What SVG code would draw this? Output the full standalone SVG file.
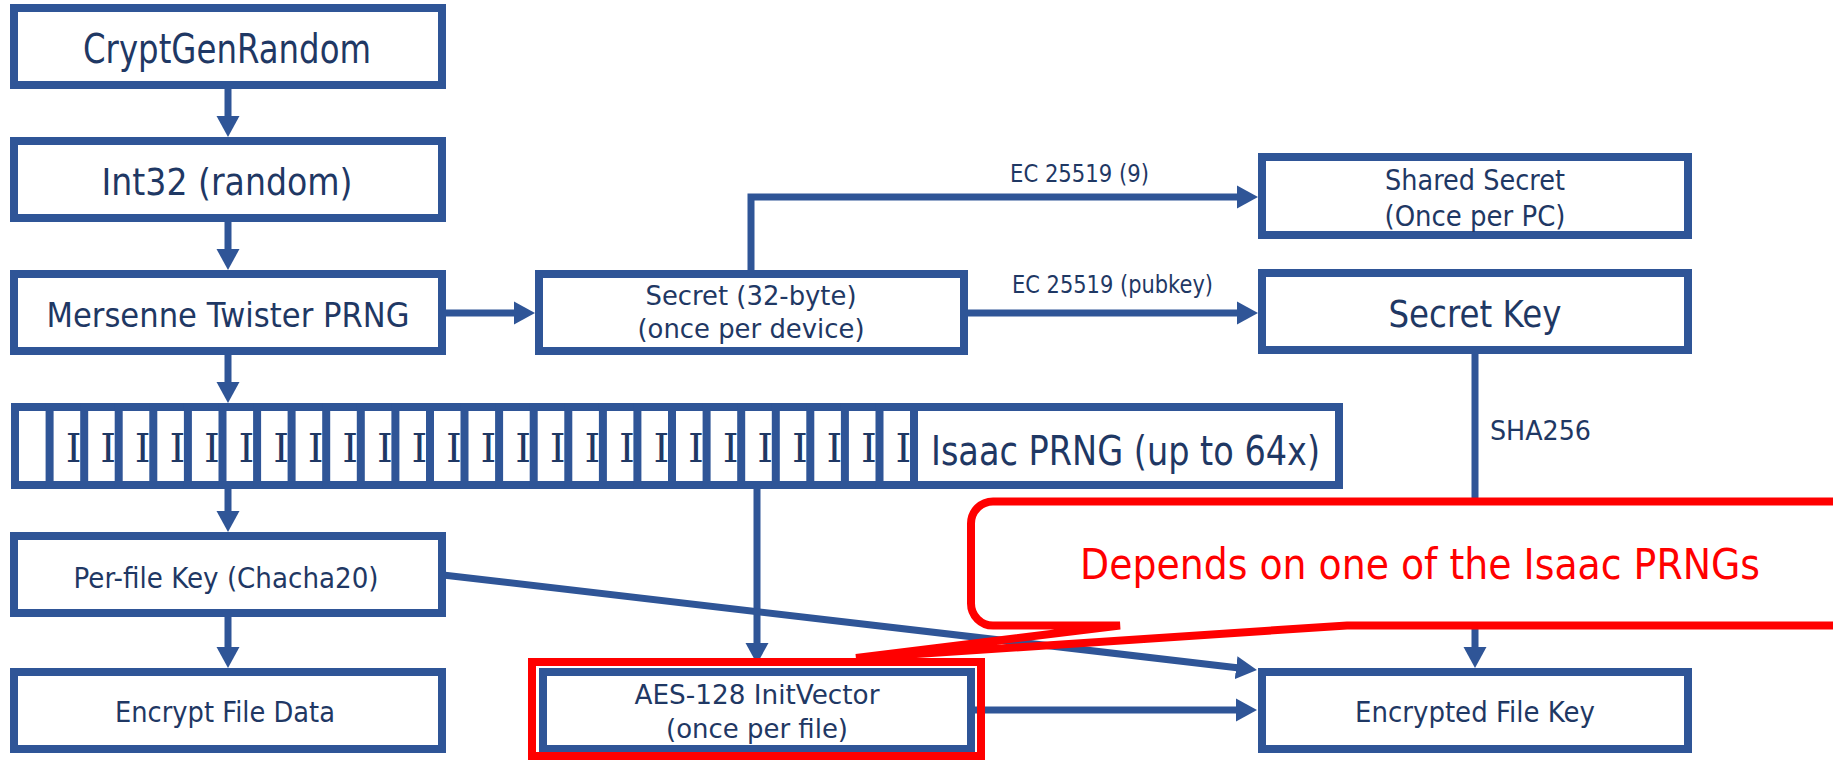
<svg xmlns="http://www.w3.org/2000/svg" width="1833" height="761" viewBox="0 0 1833 761">
<style>
.box{fill:#fff;stroke:#2F5597;stroke-width:8}
.ln{fill:none;stroke:#2F5597;stroke-width:7}
.t{font-family:"DejaVu Sans","Liberation Sans",sans-serif;fill:#1F3864;text-anchor:middle}
.ts{font-family:"DejaVu Sans","Liberation Sans",sans-serif;fill:#1F3864}
.ti{font-family:"DejaVu Serif","Liberation Serif",serif;fill:#1F3864;font-size:40px;text-anchor:middle}
.red{fill:none;stroke:#FF0000;stroke-width:8}
</style>
<defs>
<marker id="ah" markerUnits="userSpaceOnUse" markerWidth="21" markerHeight="24" refX="1" refY="12" orient="auto">
<path d="M0,0.5 L21,12 L0,23.5 Z" fill="#2F5597"/>
</marker>
</defs>
<g id="connectors">
<line class="ln" x1="228" y1="89" x2="228" y2="117" marker-end="url(#ah)"/>
<line class="ln" x1="228" y1="222" x2="228" y2="250" marker-end="url(#ah)"/>
<line class="ln" x1="228" y1="355" x2="228" y2="383" marker-end="url(#ah)"/>
<line class="ln" x1="228" y1="489" x2="228" y2="512" marker-end="url(#ah)"/>
<line class="ln" x1="228" y1="617" x2="228" y2="648" marker-end="url(#ah)"/>
<line class="ln" x1="446" y1="313" x2="515" y2="313" marker-end="url(#ah)"/>
<path class="ln" d="M751,272 V197 H1238" marker-end="url(#ah)"/>
<line class="ln" x1="968" y1="313" x2="1238" y2="313" marker-end="url(#ah)"/>
<line class="ln" x1="1475" y1="354" x2="1475" y2="648" marker-end="url(#ah)"/>
<line class="ln" x1="757" y1="489" x2="757" y2="644" marker-end="url(#ah)"/>
<line class="ln" x1="443" y1="575" x2="1237.1" y2="667.7" marker-end="url(#ah)"/>
<line class="ln" x1="975" y1="710" x2="1237" y2="710" marker-end="url(#ah)"/>
<text class="ts" x="1010" y="182" font-size="24" textLength="139" lengthAdjust="spacingAndGlyphs">EC 25519 (9)</text>
<text class="ts" x="1012" y="293" font-size="24" textLength="201" lengthAdjust="spacingAndGlyphs">EC 25519 (pubkey)</text>
<text class="ts" x="1490" y="440" font-size="27" textLength="101" lengthAdjust="spacingAndGlyphs">SHA256</text>
</g>
<g id="node-cryptgenrandom">
<rect class="box" x="14" y="8" width="428" height="77"/>
<text class="t" x="227" y="63" font-size="40" textLength="288" lengthAdjust="spacingAndGlyphs">CryptGenRandom</text>
</g>
<g id="node-int32">
<rect class="box" x="14" y="141" width="428" height="77"/>
<text class="t" x="227" y="195" font-size="38" textLength="251" lengthAdjust="spacingAndGlyphs">Int32 (random)</text>
</g>
<g id="node-mersenne">
<rect class="box" x="14" y="274" width="428" height="77"/>
<text class="t" x="228" y="327" font-size="34" textLength="363" lengthAdjust="spacingAndGlyphs">Mersenne Twister PRNG</text>
</g>
<g id="node-secret">
<rect class="box" x="539" y="274" width="425" height="77"/>
<text class="t" x="751" y="305" font-size="27" textLength="211" lengthAdjust="spacingAndGlyphs">Secret (32-byte)</text>
<text class="t" x="751" y="338" font-size="27" textLength="227" lengthAdjust="spacingAndGlyphs">(once per device)</text>
</g>
<g id="node-shared-secret">
<rect class="box" x="1262" y="157" width="426" height="78"/>
<text class="t" x="1475" y="190" font-size="29" textLength="180" lengthAdjust="spacingAndGlyphs">Shared Secret</text>
<text class="t" x="1475" y="226" font-size="29" textLength="181" lengthAdjust="spacingAndGlyphs">(Once per PC)</text>
</g>
<g id="node-secret-key">
<rect class="box" x="1262" y="273" width="426" height="77"/>
<text class="t" x="1475" y="327" font-size="37" textLength="173" lengthAdjust="spacingAndGlyphs">Secret Key</text>
</g>
<g id="node-isaac">
<rect class="box" x="15" y="407" width="426" height="78"/>
<rect class="box" x="49.6" y="407" width="426" height="78"/><text class="ti" x="73.6" y="462">I</text>
<rect class="box" x="84.2" y="407" width="426" height="78"/><text class="ti" x="108.2" y="462">I</text>
<rect class="box" x="118.7" y="407" width="426" height="78"/><text class="ti" x="142.7" y="462">I</text>
<rect class="box" x="153.3" y="407" width="426" height="78"/><text class="ti" x="177.3" y="462">I</text>
<rect class="box" x="187.9" y="407" width="426" height="78"/><text class="ti" x="211.9" y="462">I</text>
<rect class="box" x="222.5" y="407" width="426" height="78"/><text class="ti" x="246.5" y="462">I</text>
<rect class="box" x="257.1" y="407" width="426" height="78"/><text class="ti" x="281.1" y="462">I</text>
<rect class="box" x="291.6" y="407" width="426" height="78"/><text class="ti" x="315.6" y="462">I</text>
<rect class="box" x="326.2" y="407" width="426" height="78"/><text class="ti" x="350.2" y="462">I</text>
<rect class="box" x="360.8" y="407" width="426" height="78"/><text class="ti" x="384.8" y="462">I</text>
<rect class="box" x="395.4" y="407" width="426" height="78"/><text class="ti" x="419.4" y="462">I</text>
<rect class="box" x="430" y="407" width="426" height="78"/><text class="ti" x="454" y="462">I</text>
<rect class="box" x="464.5" y="407" width="426" height="78"/><text class="ti" x="488.5" y="462">I</text>
<rect class="box" x="499.1" y="407" width="426" height="78"/><text class="ti" x="523.1" y="462">I</text>
<rect class="box" x="533.7" y="407" width="426" height="78"/><text class="ti" x="557.7" y="462">I</text>
<rect class="box" x="568.3" y="407" width="426" height="78"/><text class="ti" x="592.3" y="462">I</text>
<rect class="box" x="602.9" y="407" width="426" height="78"/><text class="ti" x="626.9" y="462">I</text>
<rect class="box" x="637.4" y="407" width="426" height="78"/><text class="ti" x="661.4" y="462">I</text>
<rect class="box" x="672" y="407" width="426" height="78"/><text class="ti" x="696" y="462">I</text>
<rect class="box" x="706.6" y="407" width="426" height="78"/><text class="ti" x="730.6" y="462">I</text>
<rect class="box" x="741.2" y="407" width="426" height="78"/><text class="ti" x="765.2" y="462">I</text>
<rect class="box" x="775.8" y="407" width="426" height="78"/><text class="ti" x="799.8" y="462">I</text>
<rect class="box" x="810.3" y="407" width="426" height="78"/><text class="ti" x="834.3" y="462">I</text>
<rect class="box" x="844.9" y="407" width="426" height="78"/><text class="ti" x="868.9" y="462">I</text>
<rect class="box" x="879.5" y="407" width="426" height="78"/><text class="ti" x="903.5" y="462">I</text>
<rect class="box" x="914" y="407" width="425" height="78"/>
<text class="ts" x="931" y="465" font-size="41" textLength="389" lengthAdjust="spacingAndGlyphs">Isaac PRNG (up to 64x)</text>
</g>
<g id="node-perfile-key">
<rect class="box" x="14" y="536" width="428" height="77"/>
<text class="t" x="226" y="588" font-size="29" textLength="305" lengthAdjust="spacingAndGlyphs">Per-file Key (Chacha20)</text>
</g>
<g id="node-encrypt-data">
<rect class="box" x="14" y="672" width="428" height="77"/>
<text class="t" x="225" y="722" font-size="29" textLength="220" lengthAdjust="spacingAndGlyphs">Encrypt File Data</text>
</g>
<g id="node-aes">
<rect class="box" x="543" y="672" width="428" height="77"/>
<text class="t" x="757" y="704" font-size="27" textLength="245" lengthAdjust="spacingAndGlyphs">AES-128 InitVector</text>
<text class="t" x="757" y="738" font-size="27" textLength="182" lengthAdjust="spacingAndGlyphs">(once per file)</text>
</g>
<g id="node-encrypted-key">
<rect class="box" x="1262" y="672" width="426" height="77"/>
<text class="t" x="1475" y="722" font-size="29" textLength="240" lengthAdjust="spacingAndGlyphs">Encrypted File Key</text>
</g>
<g id="annotation">
<rect class="red" x="532" y="662" width="449" height="94"/>
<path d="M993,501.5 H1845 V625.5 H993 A22,22 0 0 1 971,603.5 V523.5 A22,22 0 0 1 993,501.5 Z" fill="#fff"/>
<path class="red" d="M1845,501.5 H993 A22,22 0 0 0 971,523.5 V603.5 A22,22 0 0 0 993,625.5 H1120 L856,658 L1347,625.5 H1845"/>
<text x="1080" y="579" font-family="DejaVu Sans, Liberation Sans, sans-serif" font-size="42" fill="#FF0000" textLength="680" lengthAdjust="spacingAndGlyphs">Depends on one of the Isaac PRNGs</text>
</g>
</svg>
